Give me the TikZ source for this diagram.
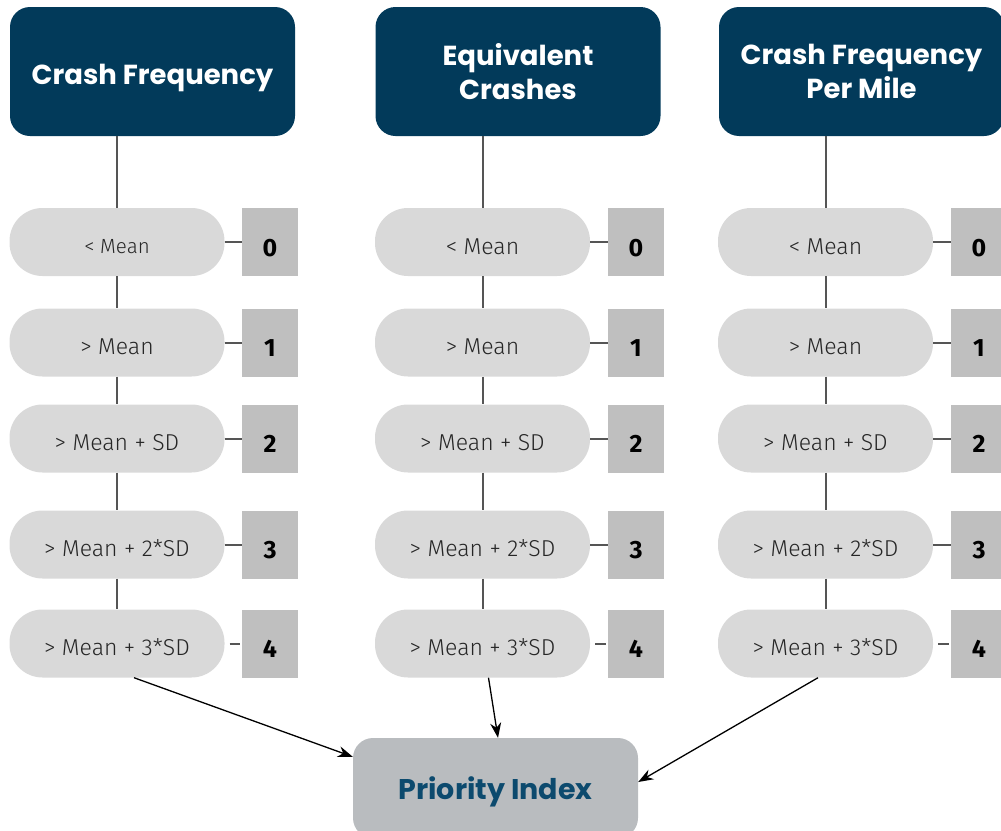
\documentclass[tikz,border=0pt]{standalone}
\usepackage{fontspec}
\usetikzlibrary{arrows.meta}
\newfontfamily\hdrfont{Poppins}
\newfontfamily\pillfont{Fira Sans Light}
\newfontfamily\scorefont{Fira Sans}
\definecolor{hdrblue}{HTML}{023A5A}
\definecolor{pillgray}{HTML}{D9D9D9}
\definecolor{scoregray}{HTML}{BFBFBF}
\definecolor{idxgray}{HTML}{B9BCBF}
\definecolor{idxblue}{HTML}{0C4A6E}
\definecolor{linegray}{HTML}{555555}
\begin{document}
\begin{tikzpicture}[x=1pt, y=-1pt,
    hdr/.style={fill=hdrblue, rounded corners=20pt, minimum width=285pt, minimum height=129pt, align=center, text=white, font=\hdrfont\bfseries\fontsize{27.5}{34}\selectfont},
    pill/.style={fill=pillgray, rounded corners=33pt, minimum width=215pt, minimum height=68pt, text height=24pt, text depth=0pt, text=black!85, font=\pillfont\fontsize{23}{27}\selectfont},
    score/.style={fill=scoregray, minimum width=56pt, minimum height=68pt, text height=28pt, text depth=0pt, font=\scorefont\bfseries\fontsize{25}{30}\selectfont},
    stem/.style={linegray, line width=2pt},
    tick/.style={linegray, line width=2pt, shorten <=5pt, shorten >=2pt},
    feed/.style={black, line width=1.3pt, -{Stealth[length=15pt, width=11pt]}}]
    \useasboundingbox (0,0) rectangle (1001,830);

    %Crash Frequency
    \node[hdr, text height=26.5pt, text depth=0pt] (h1) at (152.5,71.5) {Crash Frequency};
    \node[pill, font=\pillfont\fontsize{20.5}{25}\selectfont, text height=22pt] (a0) at (117,242) {< Mean};
    \node[pill] (a1) at (117,342.5) {> Mean};
    \node[pill] (a2) at (117,438.5) {> Mean + SD};
    \node[pill] (a3) at (117,544.5) {> Mean + 2*SD};
    \node[pill] (a4) at (117,643.5) {> Mean + 3*SD};
    \node[score] (sa0) at (270,242) {0};
    \node[score] (sa1) at (270,342.5) {1};
    \node[score] (sa2) at (270,438.5) {2};
    \node[score] (sa3) at (270,544.5) {3};
    \node[score] (sa4) at (270,643.5) {4};

    %Equivalent Crashes
    \node[hdr] (h2) at (518,71.5) {Equivalent\\Crashes};
    \node[pill] (b0) at (482.5,242) {< Mean};
    \node[pill] (b1) at (482.5,342.5) {> Mean};
    \node[pill] (b2) at (482.5,438.5) {> Mean + SD};
    \node[pill] (b3) at (482.5,544.5) {> Mean + 2*SD};
    \node[pill] (b4) at (482.5,643.5) {> Mean + 3*SD};
    \node[score] (sb0) at (636,242) {0};
    \node[score] (sb1) at (636,342.5) {1};
    \node[score] (sb2) at (636,438.5) {2};
    \node[score] (sb3) at (636,544.5) {3};
    \node[score] (sb4) at (636,643.5) {4};

    %Crash Frequency Per Mile
    \node[hdr] (h3) at (861.5,71.5) {Crash Frequency\\Per Mile};
    \node[pill] (c0) at (825.5,242) {< Mean};
    \node[pill] (c1) at (825.5,342.5) {> Mean};
    \node[pill] (c2) at (825.5,438.5) {> Mean + SD};
    \node[pill] (c3) at (825.5,544.5) {> Mean + 2*SD};
    \node[pill] (c4) at (825.5,643.5) {> Mean + 3*SD};
    \node[score] (sc0) at (979,242) {0};
    \node[score] (sc1) at (979,342.5) {1};
    \node[score] (sc2) at (979,438.5) {2};
    \node[score] (sc3) at (979,544.5) {3};
    \node[score] (sc4) at (979,643.5) {4};

    %Priority Index
    \node[fill=idxgray, rounded corners=20pt, minimum width=285pt, minimum height=100pt, text height=22pt, text depth=0pt, text=idxblue, font=\hdrfont\bfseries\fontsize{28.5}{32}\selectfont] (pi) at (495.5,788) {Priority Index};

    %stems
    \draw[stem] (h1.south -| a0) -- (a0) (a0) -- (a1) (a1) -- (a2) (a2) -- (a3) (a3) -- (a4);
    \draw[stem] (h2.south -| b0) -- (b0) (b0) -- (b1) (b1) -- (b2) (b2) -- (b3) (b3) -- (b4);
    \draw[stem] (h3.south -| c0) -- (c0) (c0) -- (c1) (c1) -- (c2) (c2) -- (c3) (c3) -- (c4);

    %ticks to scores
    \draw[tick] (a0) -- (sa0) (a1) -- (sa1) (a2) -- (sa2) (a3) -- (sa3) (a4) -- (sa4);
    \draw[tick] (b0) -- (sb0) (b1) -- (sb1) (b2) -- (sb2) (b3) -- (sb3) (b4) -- (sb4);
    \draw[tick] (c0) -- (sc0) (c1) -- (sc1) (c2) -- (sc2) (c3) -- (sc3) (c4) -- (sc4);

    %arrows into the index
    \draw[feed] ([xshift=17pt]a4.south) -- ([yshift=-19pt]pi.north west);
    \draw[feed] ([xshift=6pt]b4.south) -- ([xshift=2.5pt]pi.north);
    \draw[feed] ([xshift=-7.5pt]c4.south) -- ([yshift=6pt]pi.east);
\end{tikzpicture}
\end{document}
